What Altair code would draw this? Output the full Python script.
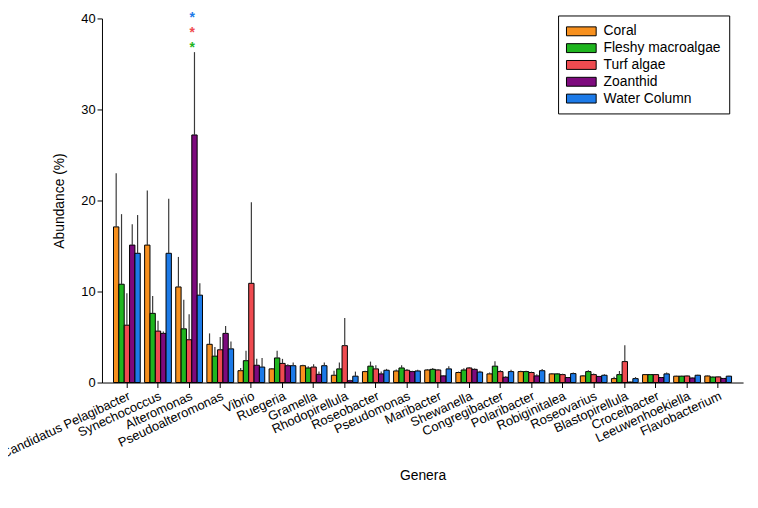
import altair as alt
import pandas as pd

genera = ["Candidatus Pelagibacter", "Synechococcus", "Alteromonas", "Pseudoalteromonas",
          "Vibrio", "Ruegeria", "Gramella", "Rhodopirellula", "Roseobacter", "Pseudomonas",
          "Maribacter", "Shewanella", "Congregibacter", "Polaribacter", "Robiginitalea",
          "Roseovarius", "Blastopirellula", "Croceibacter", "Leeuwenhoekiella", "Flavobacterium"]
series = ["Coral", "Fleshy macroalgae", "Turf algae", "Zoanthid", "Water Column"]
colors = ["#F7901E", "#1FB51F", "#EF4B50", "#7D0A7D", "#1C7AE8"]

coral_mean = [17.1, 15.1, 10.5, 4.2, 1.3, 1.5, 1.85, 0.8, 1.2, 1.27, 1.38, 1.1, 0.95, 1.2, 0.95, 0.73, 0.43, 0.87, 0.7, 0.72]
coral_err = [5.9, 6.0, 3.3, 1.2, 0.3, 0.1, 0.1, 0.5, 0.1, 0.15, 0.1, 0.1, 0.15, 0.1, 0.1, 0.1, 0.2, 0.05, 0.05, 0.05]
fleshy_mean = [10.8, 7.6, 5.9, 2.9, 2.4, 2.7, 1.6, 1.5, 1.8, 1.6, 1.45, 1.38, 1.8, 1.2, 0.95, 1.2, 0.87, 0.87, 0.7, 0.6]
fleshy_err = [7.7, 1.9, 3.2, 1.0, 1.1, 0.8, 0.2, 0.7, 0.5, 0.3, 0.15, 0.2, 0.55, 0.1, 0.1, 0.15, 0.4, 0.05, 0.05, 0.05]
turf_mean = [6.3, 5.65, 4.7, 3.6, 10.9, 2.1, 1.7, 4.05, 1.5, 1.35, 1.38, 1.6, 1.2, 1.1, 0.87, 0.87, 2.3, 0.87, 0.72, 0.62]
turf_err = [3.5, 1.15, 2.8, 1.4, 8.9, 0.5, 0.3, 3.05, 0.4, 0.15, 0.12, 0.1, 0.15, 0.1, 0.1, 0.13, 1.8, 0.05, 0.05, 0.05]
zoanthid_mean = [15.1, 5.4, 27.2, 5.4, 1.9, 1.85, 0.9, 0.2, 0.95, 1.2, 0.73, 1.45, 0.58, 0.73, 0.55, 0.67, 0.05, 0.55, 0.5, 0.45]
zoanthid_err = [2.3, 0.2, 9.1, 0.8, 0.7, 0.15, 0.3, 0.1, 0.25, 0.1, 0.07, 0.1, 0.12, 0.17, 0.05, 0.05, 0.05, 0.05, 0.05, 0.05]
water_mean = [14.2, 14.2, 9.6, 3.7, 1.7, 1.85, 1.85, 0.7, 1.35, 1.27, 1.5, 1.15, 1.2, 1.3, 0.98, 0.8, 0.43, 0.95, 0.8, 0.7]
water_err = [4.2, 6.0, 1.3, 0.8, 1.0, 0.35, 0.35, 0.5, 0.15, 0.13, 0.3, 0.15, 0.2, 0.2, 0.12, 0.1, 0.17, 0.15, 0.05, 0.05]

star_genus = "Alteromonas"
star_series = ["Fleshy macroalgae", "Turf algae", "Water Column"]
star_y = [36.95, 38.6, 40.25]

all_means = [coral_mean, fleshy_mean, turf_mean, zoanthid_mean, water_mean]
all_errs = [coral_err, fleshy_err, turf_err, zoanthid_err, water_err]

rows = []
for s, means, errs in zip(series, all_means, all_errs):
    for g, m, e in zip(genera, means, errs):
        rows.append({"genus": g, "series": s, "mean": m, "upper": m + e})
df = pd.DataFrame(rows)
stars = pd.DataFrame({"genus": [star_genus] * len(star_series), "series": star_series, "y": star_y})

FONT = "Liberation Sans"

x = alt.X("genus:N", sort=genera,
          scale=alt.Scale(paddingInner=0.14, paddingOuter=0.37),
          axis=alt.Axis(title="Genera", labelAngle=-25, labelAlign="right", labelBaseline="top",
                        labelFontSize=13, titleFontSize=14, titleFontWeight="normal",
                        labelPadding=2, titlePadding=8, tickSize=5, labelFont=FONT, titleFont=FONT,
                        domainColor="black", tickColor="black", labelColor="black", titleColor="black"))
xoff = alt.XOffset("series:N", sort=series, scale=alt.Scale(paddingInner=0, paddingOuter=0))
y_axis = alt.Axis(title="Abundance (%)", values=[0, 10, 20, 30, 40], grid=False, tickSize=5,
                  labelFontSize=13, titleFontSize=14, titleFontWeight="normal", titlePadding=14,
                  labelFont=FONT, titleFont=FONT, domainColor="black", tickColor="black",
                  labelColor="black", titleColor="black")
y_scale = alt.Scale(domain=[0, 40], nice=False)
color_scale = alt.Scale(domain=series, range=colors)

bars = alt.Chart(df).mark_bar(stroke="black", strokeWidth=1).encode(
    x=x, xOffset=xoff,
    y=alt.Y("mean:Q", scale=y_scale, axis=y_axis),
    fill=alt.Fill("series:N", sort=series, scale=color_scale,
                  legend=alt.Legend(title=None, orient="none", legendX=461, legendY=-3,
                                    symbolType="M-1,-0.6h4v1.2h-4z", symbolSize=225,
                                    symbolStrokeColor="black", symbolStrokeWidth=1, symbolOpacity=1,
                                    labelFontSize=14, labelFont=FONT, labelColor="black",
                                    labelOffset=22, rowPadding=2, padding=8,
                                    strokeColor="black", fillColor="white")),
)

errs = alt.Chart(df).mark_rule(color="#3a3a3a", strokeWidth=1.2).encode(
    x=x, xOffset=xoff,
    y=alt.Y("mean:Q", scale=y_scale, axis=y_axis),
    y2="upper:Q",
)

star_marks = alt.Chart(stars).mark_text(text="*", fontSize=14, fontWeight="bold", font=FONT,
                                        baseline="middle", dx=3, dy=2).encode(
    x=x,
    y=alt.Y("y:Q", scale=y_scale, axis=y_axis),
    fill=alt.Fill("series:N", scale=color_scale, legend=None),
)

chart = alt.layer(bars, errs, star_marks).properties(
    width=648, height=368,
    autosize=alt.AutoSizeParams(type="none"),
    padding={"left": 95, "top": 8, "right": 7, "bottom": 100},
).configure_view(strokeWidth=0)

chart.save("out.html", embed_options={"renderer": "svg", "actions": False})
